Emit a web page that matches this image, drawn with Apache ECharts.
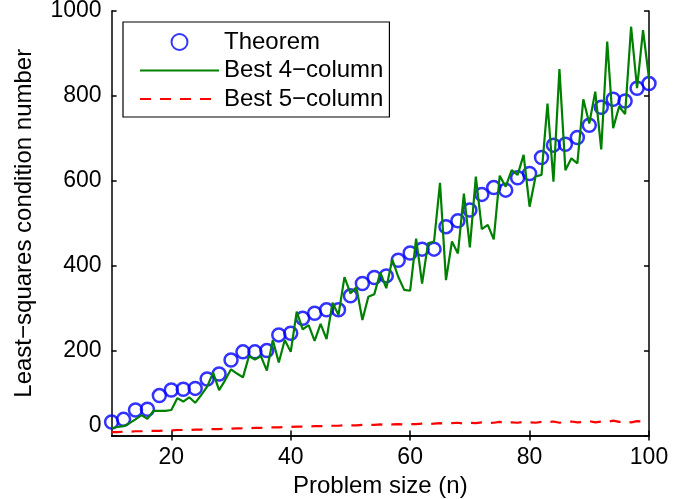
<!DOCTYPE html>
<html>
<head>
<meta charset="utf-8">
<script src="https://cdn.jsdelivr.net/npm/echarts@6/dist/echarts.min.js"></script>
<style>html,body{margin:0;padding:0;background:#fff}#c{width:694px;height:499px}</style>
</head>
<body>
<div id="c"></div>
<script>
// n = 10,12,...,100
const theoremN = [10,12,14,16,18,20,22,24,26,28,30,32,34,36,38,40,42,44,46,48,50,52,54,56,58,60,62,64,66,68,70,72,74,76,78,80,82,84,86,88,90,92,94,96,98,100];
const theoremVals = [32,38,60,62,94,107,109,111,133,145,178,197,197,200,237,241,276,288,296,296,329,358,372,376,413,430,439,439,492,506,531,568,584,578,607,617,655,684,686,702,731,773,792,788,818,829];
// n = 10..100
const bestN = [10,11,12,13,14,15,16,17,18,19,20,21,22,23,24,25,26,27,28,29,30,31,32,33,34,35,36,37,38,39,40,41,42,43,44,45,46,47,48,49,50,51,52,53,54,55,56,57,58,59,60,61,62,63,64,65,66,67,68,69,70,71,72,73,74,75,76,77,78,79,80,81,82,83,84,85,86,87,88,89,90,91,92,93,94,95,96,97,98,99,100];
const best4Vals = [17,20,22,29,38,48,39,58,58,58,60,88,80,90,77,95,115,148,107,130,156,146,137,187,179,187,153,225,172,225,197,292,250,260,223,263,227,313,284,373,335,349,272,327,333,384,347,415,374,343,341,464,358,453,457,595,366,457,429,570,443,610,486,496,462,612,586,625,614,661,539,610,614,782,598,863,625,653,641,792,735,810,674,928,724,775,757,963,818,955,841];
const best5Vals = [8,8,9,9,10,10,10,11,11,12,12,13,13,13,14,14,15,15,15,16,16,17,17,17,18,18,19,19,19,20,20,21,21,21,22,22,22,23,23,24,24,24,25,25,25,26,25,26,27,26,27,27,28,27,28,29,28,29,30,28,30,29,31,29,30,32,29,31,30,32,31,30,32,31,33,30,32,33,31,32,34,31,33,32,35,32,33,31,34,33,35];
const xTicks = [20,40,60,80,100];
const seriesNames = ['Theorem','Best 4\u2212column','Best 5\u2212column'];

const FONT = 'Liberation Sans, Arial, Helvetica, sans-serif';
const chart = echarts.init(document.getElementById('c'), null, {renderer:'canvas'});
const axisLineStyle = {color:'#000', width:1.5};
chart.setOption({
  animation:false,
  backgroundColor:'#fff',
  grid:{left:111.6, right:45, top:11, bottom:63.5, containLabel:false, outerBoundsMode:'none'},
  legend:{
    orient:'vertical', left:123, top:22,
    padding:[8,6,6,16], itemGap:4.5,
    itemWidth:79, itemHeight:16,
    backgroundColor:'#fff', borderColor:'#000', borderWidth:1.2,
    textStyle:{fontFamily:FONT, fontSize:24, color:'#000', lineHeight:24},
    data:[
      {name:seriesNames[0]},
      {name:seriesNames[1], itemStyle:{opacity:0}},
      {name:seriesNames[2], itemStyle:{opacity:0}}
    ]
  },
  xAxis:[{
    type:'value', min:10, max:100, position:'bottom',
    name:'Problem size (n)', nameLocation:'middle', nameGap:39,
    nameTextStyle:{fontFamily:FONT, fontSize:24, color:'#000'},
    axisLine:{show:true, lineStyle:axisLineStyle},
    axisTick:{show:true, inside:true, length:5, customValues:xTicks, lineStyle:axisLineStyle},
    axisLabel:{fontFamily:FONT, fontSize:23, color:'#000', margin:11, customValues:xTicks},
    splitLine:{show:false}
  },{
    type:'value', min:10, max:100, position:'top',
    axisLine:{show:true, lineStyle:axisLineStyle},
    axisTick:{show:true, inside:true, length:5, customValues:xTicks, lineStyle:axisLineStyle},
    axisLabel:{show:false}, splitLine:{show:false}
  }],
  yAxis:[{
    type:'value', min:0, max:1000, interval:200, position:'left',
    name:'Least\u2212squares condition number', nameLocation:'middle', nameGap:75,
    nameTextStyle:{fontFamily:FONT, fontSize:24, color:'#000'},
    axisLine:{show:true, lineStyle:axisLineStyle},
    axisTick:{show:true, inside:true, length:5, lineStyle:axisLineStyle},
    axisLabel:{fontFamily:FONT, fontSize:23, color:'#000', margin:10,
      formatter:(v)=> v===0 ? '{z|0}' : String(v),
      rich:{z:{fontFamily:FONT, fontSize:23, color:'#000', padding:[0,0,20,0]}}},
    splitLine:{show:false}
  },{
    type:'value', min:0, max:1000, interval:200, position:'right',
    axisLine:{show:true, lineStyle:axisLineStyle},
    axisTick:{show:true, inside:true, length:5, lineStyle:axisLineStyle},
    axisLabel:{show:false}, splitLine:{show:false}
  }],
  series:[{
    name:seriesNames[0], type:'scatter',
    symbol:'circle', symbolSize:13,
    itemStyle:{color:'rgba(0,0,0,0)', borderColor:'#0000ff', borderWidth:2.5},
    data:theoremN.map((n,i)=>[n, theoremVals[i]]), z:2
  },{
    name:seriesNames[1], type:'line', symbol:'none',
    lineStyle:{color:'#008000', width:2.2}, itemStyle:{color:'#008000'},
    data:bestN.map((n,i)=>[n, best4Vals[i]]), z:3
  },{
    name:seriesNames[2], type:'line', symbol:'none',
    lineStyle:{color:'#ff0000', width:2.2, type:[11,9]}, itemStyle:{color:'#ff0000'},
    data:bestN.map((n,i)=>[n, best5Vals[i]]), z:3
  }]
});
</script>
</body>
</html>
